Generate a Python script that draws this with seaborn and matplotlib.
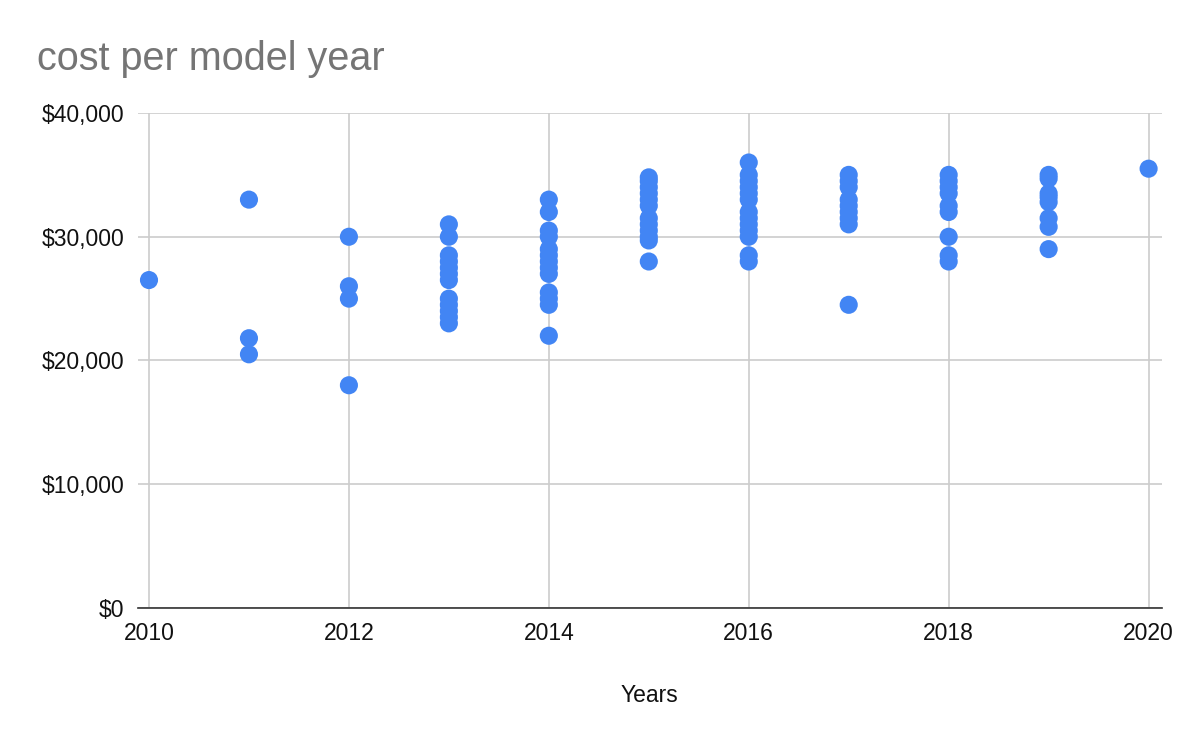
import numpy as np
import pandas as pd
import matplotlib
matplotlib.use("Agg")
import matplotlib.pyplot as plt
import seaborn as sns
from matplotlib.ticker import FuncFormatter, MultipleLocator

# data, grouped by model year
years = [2010, 2011, 2012, 2013, 2014, 2015, 2016, 2017, 2018, 2019, 2020]
costs = [
    [26500],
    [33000, 21800, 20500],
    [30000, 26000, 25000, 18000],
    [31000, 30000, 28500, 28000, 27500, 27000, 26500, 25000, 24500, 24000, 23500, 23000],
    [33000, 32000, 30500, 30000, 29000, 28500, 28000, 27500, 27000, 25500, 25000, 24500, 22000],
    [34800, 34500, 34000, 33500, 33000, 32500, 31500, 31000, 30500, 30000, 29700, 28000],
    [36000, 35000, 34500, 34000, 33500, 33000, 32000, 31500, 31000, 30500, 30000, 28500, 28000],
    [35000, 34500, 34000, 33000, 32500, 32000, 31500, 31000, 24500],
    [35000, 34500, 34000, 33500, 32500, 32000, 30000, 28500, 28000],
    [35000, 34700, 33500, 33200, 32800, 31500, 30800, 29000],
    [35500],
]

df = pd.DataFrame(
    [(y, c) for y, cs in zip(years, costs) for c in cs],
    columns=["year", "cost"],
)

sns.set_style("white")
plt.rcParams["font.family"] = ["Liberation Sans", "DejaVu Sans"]

fig = plt.figure(figsize=(12, 7.41), dpi=100)
ax = fig.add_axes([0.115, 0.1795, 0.853, 0.668])

sns.scatterplot(data=df, x="year", y="cost", ax=ax, color="#4285F4",
                s=170, edgecolor="none", zorder=3, legend=False)

ax.set_xlim(2009.89, 2020.13)
ax.set_ylim(0, 40000)
ax.xaxis.set_major_locator(MultipleLocator(2))
ax.yaxis.set_major_locator(MultipleLocator(10000))
ax.yaxis.set_major_formatter(FuncFormatter(lambda v, p: f"${v:,.0f}"))
ax.grid(True, color="#cccccc", linewidth=1.2)
ax.set_axisbelow(True)
for s in ["top", "right", "left"]:
    ax.spines[s].set_visible(False)
ax.spines["bottom"].set_color("#333333")
ax.spines["bottom"].set_linewidth(1.2)
ax.tick_params(axis="both", length=0, labelsize=16.5, colors="#111111")
ax.tick_params(axis="x", pad=10)
ax.tick_params(axis="y", pad=10)

ax.set_xlabel("Years", fontsize=16.5, color="#111111", labelpad=28)
ax.set_ylabel("")
fig.text(0.031, 0.906, "cost per model year", fontsize=28.5, color="#757575",
         ha="left", va="baseline")

fig.savefig("out.png", dpi=100)
